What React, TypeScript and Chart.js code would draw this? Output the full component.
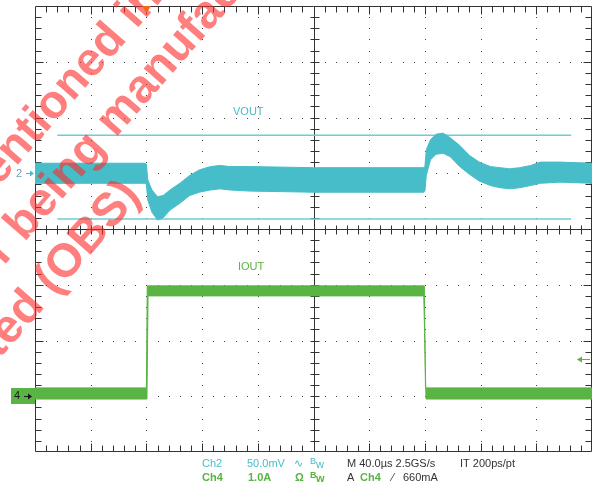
import React, { useEffect, useRef } from 'react';
import { Chart, registerables } from 'chart.js';

Chart.register(...registerables);

// ---- scope settings ----
const timeRangeUs = [0, 400]; // 40 µs/div, 10 div
const divisionsX = 10;
const divisionsY = 8;
const ch2ScaleMv = 50; // mV/div
const ch4ScaleA = 1.0; // A/div
const ch2OffsetDiv = 1;
const ch4OffsetDiv = -3;

// ---- VOUT (Ch2) envelope, mV relative to ch2 marker ----
const voutTimeUs = [0, 79, 80, 81, 84, 88, 92, 97, 104, 111, 118, 126, 133, 140, 154, 200, 279, 280, 281, 284, 288, 293, 298, 305, 312, 319, 327, 334, 341, 348, 356, 363, 377, 400];
const voutUpperMv = [9, 9, 8, -6, -15, -21, -20, -15, -9, -2, 3, 6, 7, 6, 6, 5, 5, 6, 21, 30, 35, 36, 32, 25, 16, 10, 6, 5, 4, 5, 7, 10, 10, 9];
const voutLowerMv = [-9, -9, -10, -24, -35, -42, -40, -33, -27, -20, -17, -15, -14, -15, -16, -17, -17, -16, -2, 12, 17, 18, 15, 6, -1, -7, -11, -13, -14, -13, -11, -9, -8, -9];

// ---- IOUT (Ch4) envelope, A ----
const ioutUpperTimeUs = [0, 80, 80.6, 279.6, 280.4, 400];
const ioutUpperA = [0.15, 0.15, 1.98, 1.98, 0.15, 0.15];
const ioutLowerTimeUs = [0, 80.4, 81.2, 279.2, 280.8, 400];
const ioutLowerA = [-0.05, -0.05, 1.8, 1.8, -0.05, -0.05];

// ---- horizontal cursors (Ch2), mV ----
const cursorLevelsMv = [34, -41];
const cursorSpanUs = [16, 385];
const triggerTimeUs = 80;
const triggerLevelA = 0.66;

const CYAN = '#47BDC9';
const CYAN_LIGHT = '#6FCBD4';
const GREEN = '#5AB443';
const DARK = '#333333';

const ch2 = (mv: number) => ch2OffsetDiv + mv / ch2ScaleMv;
const ch4 = (a: number) => ch4OffsetDiv + a / ch4ScaleA;

const scopeGrid = {
  id: 'scopeGrid',
  beforeDatasetsDraw(chart: any) {
    const { ctx, chartArea: a } = chart;
    const dx = (a.right - a.left) / divisionsX;
    const dy = (a.bottom - a.top) / divisionsY;
    const cx = a.left + (divisionsX / 2) * dx;
    const cy = a.top + (divisionsY / 2) * dy;
    ctx.save();
    ctx.fillStyle = '#444';
    for (let i = 1; i < divisionsX; i++) {
      if (i === divisionsX / 2) continue;
      const x = Math.round(a.left + i * dx);
      for (let j = 1; j < divisionsY * 5; j++) {
        const y = Math.round(a.top + (j * dy) / 5);
        ctx.fillRect(x, y, 1, 1);
      }
    }
    for (let j = 1; j < divisionsY; j++) {
      if (j === divisionsY / 2) continue;
      const y = Math.round(a.top + j * dy);
      for (let i = 1; i < divisionsX * 5; i++) {
        const x = Math.round(a.left + (i * dx) / 5);
        ctx.fillRect(x, y, 1, 1);
      }
    }
    ctx.strokeStyle = DARK;
    ctx.lineWidth = 1;
    ctx.beginPath();
    const L = Math.round(a.left) + 0.5, R = Math.round(a.right) - 0.5;
    const T = Math.round(a.top) + 0.5, B = Math.round(a.bottom) - 0.5;
    const CX = Math.round(cx) + 0.5, CY = Math.round(cy) + 0.5;
    ctx.rect(L, T, R - L, B - T);
    ctx.moveTo(L, CY); ctx.lineTo(R, CY);
    ctx.moveTo(CX, T); ctx.lineTo(CX, B);
    for (let i = 1; i < divisionsX * 5; i++) {
      const x = Math.round(a.left + (i * dx) / 5) + 0.5;
      const major = i % 5 === 0;
      const len = major ? 8 : 6;
      ctx.moveTo(x, T); ctx.lineTo(x, T + len);
      ctx.moveTo(x, B); ctx.lineTo(x, B - len);
      ctx.moveTo(x, CY - 4); ctx.lineTo(x, CY + 5);
    }
    for (let j = 1; j < divisionsY * 5; j++) {
      const y = Math.round(a.top + (j * dy) / 5) + 0.5;
      const major = j % 5 === 0;
      const len = major ? 8 : 6;
      ctx.moveTo(L, y); ctx.lineTo(L + len, y);
      ctx.moveTo(R, y); ctx.lineTo(R - len, y);
      ctx.moveTo(CX - 4, y); ctx.lineTo(CX + 5, y);
    }
    ctx.stroke();
    ctx.restore();
  },
};

const scopeText = {
  id: 'scopeText',
  afterDraw(chart: any) {
    const { ctx, scales, chartArea: a } = chart;
    const xs = scales.x, ys = scales.y;
    ctx.save();
    ctx.textBaseline = 'middle';
    ctx.textAlign = 'left';
    const font = (s: number, b = false) => `${b ? 'bold ' : ''}${s}px "Liberation Sans", Arial, sans-serif`;

    ctx.font = font(11);
    ctx.fillStyle = CYAN;
    ctx.fillText('VOUT', 233, 112);
    ctx.fillStyle = GREEN;
    ctx.fillText('IOUT', 238, 267);

    // ch2 marker
    const y2 = Math.round(ys.getPixelForValue(ch2(0))) + 0.5;
    ctx.fillStyle = '#6F9FB0';
    ctx.fillText('2', 16, y2);
    ctx.strokeStyle = CYAN;
    ctx.fillStyle = CYAN;
    ctx.lineWidth = 1;
    ctx.beginPath(); ctx.moveTo(26, y2); ctx.lineTo(33, y2); ctx.stroke();
    ctx.beginPath(); ctx.moveTo(34, y2); ctx.lineTo(30, y2 - 3); ctx.lineTo(30, y2 + 3); ctx.closePath(); ctx.fill();

    // ch4 marker box
    const y4 = Math.round(ys.getPixelForValue(ch4(0)));
    ctx.fillStyle = GREEN;
    ctx.fillRect(11, y4 - 8, Math.round(a.left) - 11, 16);
    ctx.fillStyle = '#1a1a1a';
    ctx.fillText('4', 14, y4);
    ctx.strokeStyle = '#1a1a1a';
    ctx.beginPath(); ctx.moveTo(24, y4 + 0.5); ctx.lineTo(31, y4 + 0.5); ctx.stroke();
    ctx.beginPath(); ctx.moveTo(32, y4 + 0.5); ctx.lineTo(28, y4 - 2.5); ctx.lineTo(28, y4 + 3.5); ctx.closePath(); ctx.fill();

    // trigger level arrow (right)
    const yt = Math.round(ys.getPixelForValue(ch4(triggerLevelA))) + 0.5;
    ctx.strokeStyle = GREEN; ctx.fillStyle = GREEN;
    ctx.beginPath(); ctx.moveTo(580, yt); ctx.lineTo(590, yt); ctx.stroke();
    ctx.beginPath(); ctx.moveTo(577, yt); ctx.lineTo(582, yt - 3); ctx.lineTo(582, yt + 3); ctx.closePath(); ctx.fill();

    // status bar
    const r1 = 464, r2 = 478;
    ctx.font = font(11);
    ctx.fillStyle = CYAN;
    ctx.fillText('Ch2', 202, r1);
    ctx.fillText('50.0mV', 247, r1);
    ctx.fillText('∿', 294, r1);
    ctx.font = font(9); ctx.fillText('B', 310, r1 - 2);
    ctx.font = font(11); ctx.fillText('w', 316, r1 + 1);
    ctx.fillStyle = DARK;
    ctx.fillText('M 40.0µs 2.5GS/s', 347, r1);
    ctx.fillText('IT 200ps/pt', 460, r1);

    ctx.fillStyle = GREEN;
    ctx.font = font(11, true);
    ctx.fillText('Ch4', 202, r2);
    ctx.fillText('1.0A', 248, r2);
    ctx.fillText('Ω', 295, r2);
    ctx.font = font(9, true); ctx.fillText('B', 310, r2 - 2);
    ctx.font = font(11, true); ctx.fillText('w', 316, r2 + 1);
    ctx.fillStyle = DARK;
    ctx.font = font(11);
    ctx.fillText('A', 347, r2);
    ctx.fillStyle = GREEN;
    ctx.font = font(11, true);
    ctx.fillText('Ch4', 360, r2);
    ctx.fillStyle = DARK;
    ctx.font = font(11);
    ctx.fillText('⁄', 392, r2);
    ctx.fillText('660mA', 403, r2);

    // watermark
    ctx.save();
    const ang = (-48.8 * Math.PI) / 180;
    ctx.rotate(ang);
    ctx.font = font(47, true);
    ctx.fillStyle = 'rgba(255, 40, 40, 0.6)';
    const place = (pre: string, ch: string, post: string, cxp: number, yp: number) => {
      const w0 = ctx.measureText(pre).width;
      const wc = ctx.measureText(ch).width;
      ctx.fillText(pre + ch + post, cxp - wc / 2 - w0, yp);
    };
    place('The product(s) mentione', 'd', ' in this document', 40, 109);
    place('is no longer ', 'b', 'eing manufactured', -152, 165);
    place('and is obsoleted (OBS', ')', '', -62, 223);
    ctx.restore();

    // trigger position marker (top), drawn over the watermark
    const xt = xs.getPixelForValue(triggerTimeUs);
    ctx.fillStyle = '#F26A1B';
    ctx.beginPath(); ctx.moveTo(xt - 4.5, a.top); ctx.lineTo(xt + 4.5, a.top); ctx.lineTo(xt, a.top + 7); ctx.closePath(); ctx.fill();
    ctx.restore();
  },
};

export default function App() {
  const ref = useRef<HTMLCanvasElement | null>(null);
  useEffect(() => {
    if (!ref.current) return;
    const ln = (color: string, w = 1) => ({ borderColor: color, backgroundColor: color, borderWidth: w, pointRadius: 0, tension: 0 });
    const chart = new Chart(ref.current, {
      type: 'line',
      data: {
        datasets: [
          { label: 'VOUT hi', data: voutTimeUs.map((t, i) => ({ x: t, y: ch2(voutUpperMv[i]) })), fill: '+1', ...ln(CYAN), order: 1 },
          { label: 'VOUT lo', data: voutTimeUs.map((t, i) => ({ x: t, y: ch2(voutLowerMv[i]) })), fill: false, ...ln(CYAN), order: 1 },
          { label: 'IOUT hi', data: ioutUpperTimeUs.map((t, i) => ({ x: t, y: ch4(ioutUpperA[i]) })), fill: '+1', ...ln(GREEN), order: 1 },
          { label: 'IOUT lo', data: ioutLowerTimeUs.map((t, i) => ({ x: t, y: ch4(ioutLowerA[i]) })), fill: false, ...ln(GREEN), order: 1 },
          { label: 'cursor a', data: cursorSpanUs.map((t) => ({ x: t, y: ch2(cursorLevelsMv[0]) })), fill: false, ...ln(CYAN_LIGHT, 1.5), order: 2 },
          { label: 'cursor b', data: cursorSpanUs.map((t) => ({ x: t, y: ch2(cursorLevelsMv[1]) })), fill: false, ...ln(CYAN_LIGHT, 1.5), order: 2 },
        ],
      },
      options: {
        responsive: false,
        animation: false,
        layout: { padding: { left: 35, top: 6, right: 3, bottom: 33 } },
        scales: {
          x: { type: 'linear', min: timeRangeUs[0], max: timeRangeUs[1], display: false },
          y: { type: 'linear', min: -divisionsY / 2, max: divisionsY / 2, display: false },
        },
        plugins: { legend: { display: false }, tooltip: { enabled: false } },
      },
      plugins: [scopeGrid, scopeText],
    });
    return () => chart.destroy();
  }, []);
  return (
    <div style={{ position: 'fixed', left: 0, top: 0, width: 595, height: 485, background: '#fff' }}>
      <canvas ref={ref} width={595} height={485} style={{ display: 'block' }} />
    </div>
  );
}
